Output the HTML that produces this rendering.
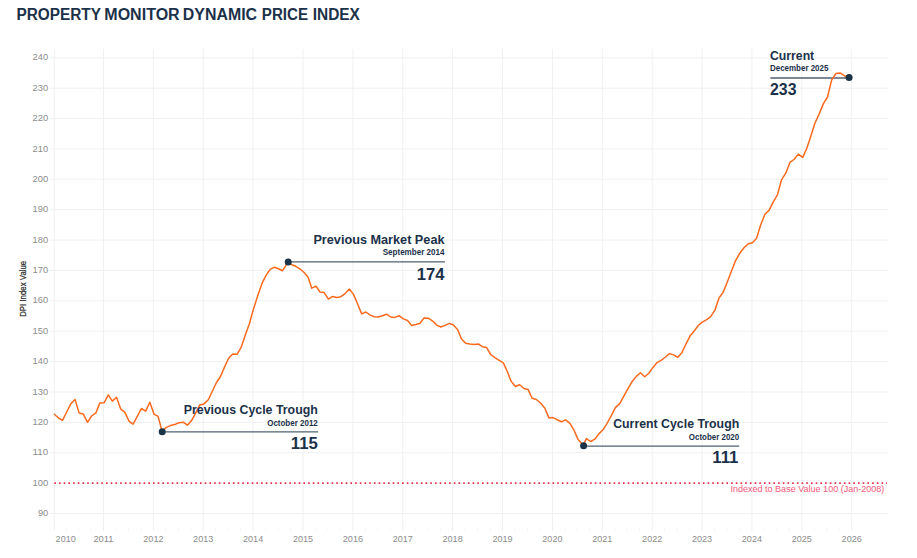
<!DOCTYPE html>
<html><head><meta charset="utf-8"><title>Property Monitor Dynamic Price Index</title>
<style>
html,body{margin:0;padding:0;background:#fff;}
body{width:917px;height:558px;overflow:hidden;font-family:"Liberation Sans",sans-serif;}
svg{display:block;font-family:"Liberation Sans",sans-serif;}
.grid line{stroke:#f0f0f0;stroke-width:1;}
.ax text{fill:#8c8c8c;font-size:8.6px;}
.ann text{fill:#1b3149;font-weight:bold;}
.ann line{stroke:#506270;stroke-width:1.3;}
.dot{fill:#1b3347;}
</style></head><body>
<svg width="917" height="558" viewBox="0 0 917 558">
<rect width="917" height="558" fill="#fff"/>
<g font-size="15.6" font-weight="bold" fill="#1b3149">
<text x="16.4" y="20.1" textLength="84.5" lengthAdjust="spacingAndGlyphs">PROPERTY</text>
<text x="104.3" y="20.1" textLength="75.4" lengthAdjust="spacingAndGlyphs">MONITOR</text>
<text x="182.8" y="20.1" textLength="74.3" lengthAdjust="spacingAndGlyphs">DYNAMIC</text>
<text x="261.8" y="20.1" textLength="46.2" lengthAdjust="spacingAndGlyphs">PRICE</text>
<text x="312.7" y="20.1" textLength="47.2" lengthAdjust="spacingAndGlyphs">INDEX</text>
</g>
<g class="grid">
<line x1="54.3" y1="48.8" x2="54.3" y2="531" stroke-width="0.7"/>
<line x1="66.1" y1="528.6" x2="66.1" y2="530.6" stroke="#e9e9e9"/>
<line x1="78.5" y1="528.6" x2="78.5" y2="530.6" stroke="#e9e9e9"/>
<line x1="91.0" y1="528.6" x2="91.0" y2="530.6" stroke="#e9e9e9"/>
<line x1="103.5" y1="48.8" x2="103.5" y2="531"/>
<line x1="116.0" y1="528.6" x2="116.0" y2="530.6" stroke="#e9e9e9"/>
<line x1="128.4" y1="528.6" x2="128.4" y2="530.6" stroke="#e9e9e9"/>
<line x1="140.9" y1="528.6" x2="140.9" y2="530.6" stroke="#e9e9e9"/>
<line x1="153.4" y1="48.8" x2="153.4" y2="531"/>
<line x1="165.8" y1="528.6" x2="165.8" y2="530.6" stroke="#e9e9e9"/>
<line x1="178.3" y1="528.6" x2="178.3" y2="530.6" stroke="#e9e9e9"/>
<line x1="190.8" y1="528.6" x2="190.8" y2="530.6" stroke="#e9e9e9"/>
<line x1="203.2" y1="48.8" x2="203.2" y2="531"/>
<line x1="215.7" y1="528.6" x2="215.7" y2="530.6" stroke="#e9e9e9"/>
<line x1="228.2" y1="528.6" x2="228.2" y2="530.6" stroke="#e9e9e9"/>
<line x1="240.7" y1="528.6" x2="240.7" y2="530.6" stroke="#e9e9e9"/>
<line x1="253.1" y1="48.8" x2="253.1" y2="531"/>
<line x1="265.6" y1="528.6" x2="265.6" y2="530.6" stroke="#e9e9e9"/>
<line x1="278.1" y1="528.6" x2="278.1" y2="530.6" stroke="#e9e9e9"/>
<line x1="290.5" y1="528.6" x2="290.5" y2="530.6" stroke="#e9e9e9"/>
<line x1="303.0" y1="48.8" x2="303.0" y2="531"/>
<line x1="315.5" y1="528.6" x2="315.5" y2="530.6" stroke="#e9e9e9"/>
<line x1="327.9" y1="528.6" x2="327.9" y2="530.6" stroke="#e9e9e9"/>
<line x1="340.4" y1="528.6" x2="340.4" y2="530.6" stroke="#e9e9e9"/>
<line x1="352.9" y1="48.8" x2="352.9" y2="531"/>
<line x1="365.4" y1="528.6" x2="365.4" y2="530.6" stroke="#e9e9e9"/>
<line x1="377.8" y1="528.6" x2="377.8" y2="530.6" stroke="#e9e9e9"/>
<line x1="390.3" y1="528.6" x2="390.3" y2="530.6" stroke="#e9e9e9"/>
<line x1="402.8" y1="48.8" x2="402.8" y2="531"/>
<line x1="415.2" y1="528.6" x2="415.2" y2="530.6" stroke="#e9e9e9"/>
<line x1="427.7" y1="528.6" x2="427.7" y2="530.6" stroke="#e9e9e9"/>
<line x1="440.2" y1="528.6" x2="440.2" y2="530.6" stroke="#e9e9e9"/>
<line x1="452.6" y1="48.8" x2="452.6" y2="531"/>
<line x1="465.1" y1="528.6" x2="465.1" y2="530.6" stroke="#e9e9e9"/>
<line x1="477.6" y1="528.6" x2="477.6" y2="530.6" stroke="#e9e9e9"/>
<line x1="490.1" y1="528.6" x2="490.1" y2="530.6" stroke="#e9e9e9"/>
<line x1="502.5" y1="48.8" x2="502.5" y2="531"/>
<line x1="515.0" y1="528.6" x2="515.0" y2="530.6" stroke="#e9e9e9"/>
<line x1="527.5" y1="528.6" x2="527.5" y2="530.6" stroke="#e9e9e9"/>
<line x1="539.9" y1="528.6" x2="539.9" y2="530.6" stroke="#e9e9e9"/>
<line x1="552.4" y1="48.8" x2="552.4" y2="531"/>
<line x1="564.9" y1="528.6" x2="564.9" y2="530.6" stroke="#e9e9e9"/>
<line x1="577.3" y1="528.6" x2="577.3" y2="530.6" stroke="#e9e9e9"/>
<line x1="589.8" y1="528.6" x2="589.8" y2="530.6" stroke="#e9e9e9"/>
<line x1="602.3" y1="48.8" x2="602.3" y2="531"/>
<line x1="614.8" y1="528.6" x2="614.8" y2="530.6" stroke="#e9e9e9"/>
<line x1="627.2" y1="528.6" x2="627.2" y2="530.6" stroke="#e9e9e9"/>
<line x1="639.7" y1="528.6" x2="639.7" y2="530.6" stroke="#e9e9e9"/>
<line x1="652.2" y1="48.8" x2="652.2" y2="531"/>
<line x1="664.6" y1="528.6" x2="664.6" y2="530.6" stroke="#e9e9e9"/>
<line x1="677.1" y1="528.6" x2="677.1" y2="530.6" stroke="#e9e9e9"/>
<line x1="689.6" y1="528.6" x2="689.6" y2="530.6" stroke="#e9e9e9"/>
<line x1="702.0" y1="48.8" x2="702.0" y2="531"/>
<line x1="714.5" y1="528.6" x2="714.5" y2="530.6" stroke="#e9e9e9"/>
<line x1="727.0" y1="528.6" x2="727.0" y2="530.6" stroke="#e9e9e9"/>
<line x1="739.5" y1="528.6" x2="739.5" y2="530.6" stroke="#e9e9e9"/>
<line x1="751.9" y1="48.8" x2="751.9" y2="531"/>
<line x1="764.4" y1="528.6" x2="764.4" y2="530.6" stroke="#e9e9e9"/>
<line x1="776.9" y1="528.6" x2="776.9" y2="530.6" stroke="#e9e9e9"/>
<line x1="789.3" y1="528.6" x2="789.3" y2="530.6" stroke="#e9e9e9"/>
<line x1="801.8" y1="48.8" x2="801.8" y2="531"/>
<line x1="814.3" y1="528.6" x2="814.3" y2="530.6" stroke="#e9e9e9"/>
<line x1="826.7" y1="528.6" x2="826.7" y2="530.6" stroke="#e9e9e9"/>
<line x1="839.2" y1="528.6" x2="839.2" y2="530.6" stroke="#e9e9e9"/>
<line x1="851.7" y1="48.8" x2="851.7" y2="531"/>
<line x1="50" y1="513.5" x2="888.5" y2="513.5"/>
<line x1="50" y1="483.1" x2="888.5" y2="483.1"/>
<line x1="50" y1="452.7" x2="888.5" y2="452.7"/>
<line x1="50" y1="422.4" x2="888.5" y2="422.4"/>
<line x1="50" y1="392.0" x2="888.5" y2="392.0"/>
<line x1="50" y1="361.6" x2="888.5" y2="361.6"/>
<line x1="50" y1="331.2" x2="888.5" y2="331.2"/>
<line x1="50" y1="300.8" x2="888.5" y2="300.8"/>
<line x1="50" y1="270.5" x2="888.5" y2="270.5"/>
<line x1="50" y1="240.1" x2="888.5" y2="240.1"/>
<line x1="50" y1="209.7" x2="888.5" y2="209.7"/>
<line x1="50" y1="179.3" x2="888.5" y2="179.3"/>
<line x1="50" y1="148.9" x2="888.5" y2="148.9"/>
<line x1="50" y1="118.6" x2="888.5" y2="118.6"/>
<line x1="50" y1="88.2" x2="888.5" y2="88.2"/>
<line x1="50" y1="57.8" x2="888.5" y2="57.8"/>
</g>
<g class="ax">
<text x="48.2" y="516.1" text-anchor="end" textLength="10.3" lengthAdjust="spacingAndGlyphs">90</text>
<text x="48.2" y="485.7" text-anchor="end" textLength="15.6" lengthAdjust="spacingAndGlyphs">100</text>
<text x="48.2" y="455.3" text-anchor="end" textLength="15.6" lengthAdjust="spacingAndGlyphs">110</text>
<text x="48.2" y="425.0" text-anchor="end" textLength="15.6" lengthAdjust="spacingAndGlyphs">120</text>
<text x="48.2" y="394.6" text-anchor="end" textLength="15.6" lengthAdjust="spacingAndGlyphs">130</text>
<text x="48.2" y="364.2" text-anchor="end" textLength="15.6" lengthAdjust="spacingAndGlyphs">140</text>
<text x="48.2" y="333.8" text-anchor="end" textLength="15.6" lengthAdjust="spacingAndGlyphs">150</text>
<text x="48.2" y="303.4" text-anchor="end" textLength="15.6" lengthAdjust="spacingAndGlyphs">160</text>
<text x="48.2" y="273.1" text-anchor="end" textLength="15.6" lengthAdjust="spacingAndGlyphs">170</text>
<text x="48.2" y="242.7" text-anchor="end" textLength="15.6" lengthAdjust="spacingAndGlyphs">180</text>
<text x="48.2" y="212.3" text-anchor="end" textLength="15.6" lengthAdjust="spacingAndGlyphs">190</text>
<text x="48.2" y="181.9" text-anchor="end" textLength="15.6" lengthAdjust="spacingAndGlyphs">200</text>
<text x="48.2" y="151.5" text-anchor="end" textLength="15.6" lengthAdjust="spacingAndGlyphs">210</text>
<text x="48.2" y="121.2" text-anchor="end" textLength="15.6" lengthAdjust="spacingAndGlyphs">220</text>
<text x="48.2" y="90.8" text-anchor="end" textLength="15.6" lengthAdjust="spacingAndGlyphs">230</text>
<text x="48.2" y="60.4" text-anchor="end" textLength="15.6" lengthAdjust="spacingAndGlyphs">240</text>
<text x="55.6" y="542.3" text-anchor="start" textLength="20.2" lengthAdjust="spacingAndGlyphs">2010</text>
<text x="103.5" y="542.3" text-anchor="middle" textLength="20.2" lengthAdjust="spacingAndGlyphs">2011</text>
<text x="153.4" y="542.3" text-anchor="middle" textLength="20.2" lengthAdjust="spacingAndGlyphs">2012</text>
<text x="203.2" y="542.3" text-anchor="middle" textLength="20.2" lengthAdjust="spacingAndGlyphs">2013</text>
<text x="253.1" y="542.3" text-anchor="middle" textLength="20.2" lengthAdjust="spacingAndGlyphs">2014</text>
<text x="303.0" y="542.3" text-anchor="middle" textLength="20.2" lengthAdjust="spacingAndGlyphs">2015</text>
<text x="352.9" y="542.3" text-anchor="middle" textLength="20.2" lengthAdjust="spacingAndGlyphs">2016</text>
<text x="402.8" y="542.3" text-anchor="middle" textLength="20.2" lengthAdjust="spacingAndGlyphs">2017</text>
<text x="452.6" y="542.3" text-anchor="middle" textLength="20.2" lengthAdjust="spacingAndGlyphs">2018</text>
<text x="502.5" y="542.3" text-anchor="middle" textLength="20.2" lengthAdjust="spacingAndGlyphs">2019</text>
<text x="552.4" y="542.3" text-anchor="middle" textLength="20.2" lengthAdjust="spacingAndGlyphs">2020</text>
<text x="602.3" y="542.3" text-anchor="middle" textLength="20.2" lengthAdjust="spacingAndGlyphs">2021</text>
<text x="652.2" y="542.3" text-anchor="middle" textLength="20.2" lengthAdjust="spacingAndGlyphs">2022</text>
<text x="702.0" y="542.3" text-anchor="middle" textLength="20.2" lengthAdjust="spacingAndGlyphs">2023</text>
<text x="751.9" y="542.3" text-anchor="middle" textLength="20.2" lengthAdjust="spacingAndGlyphs">2024</text>
<text x="801.8" y="542.3" text-anchor="middle" textLength="20.2" lengthAdjust="spacingAndGlyphs">2025</text>
<text x="851.7" y="542.3" text-anchor="middle" textLength="20.2" lengthAdjust="spacingAndGlyphs">2026</text>
</g>
<text transform="translate(25.9,288.8) rotate(-90)" text-anchor="middle" font-size="8.2" fill="#262626" stroke="#262626" stroke-width="0.2" textLength="56" lengthAdjust="spacingAndGlyphs">DPI Index Value</text>
<line x1="54.3" y1="483.1" x2="887" y2="483.1" stroke="#ea2f52" stroke-width="1.6" stroke-dasharray="1.6 3.1"/>
<text x="884.4" y="491.7" text-anchor="end" font-size="8.4" fill="#f2587a" textLength="154" lengthAdjust="spacingAndGlyphs">Indexed to Base Value 100 (Jan-2008)</text>
<g class="ann">
<line x1="162.2" y1="431.9" x2="318.2" y2="431.9"/>
<line x1="288.2" y1="261.9" x2="444.9" y2="261.9"/>
<line x1="583.7" y1="446.2" x2="739.2" y2="446.2"/>
<line x1="770.3" y1="78" x2="849" y2="78"/>
</g>
<polyline fill="none" stroke="#fa6a1e" stroke-width="1.5" stroke-linejoin="round" stroke-linecap="round" points="54.4,414.2 58.5,418.0 62.5,420.4 66.7,412.0 70.8,403.8 75.0,399.4 79.1,412.9 83.2,413.9 87.5,422.4 91.6,416.0 95.9,412.9 99.9,402.9 104.1,402.8 108.3,394.8 112.3,401.1 116.5,397.2 120.6,408.8 124.9,412.4 129.0,421.1 133.1,424.1 137.3,416.4 141.4,408.5 145.7,411.1 149.8,402.2 154.0,414.1 158.1,416.4 162.1,431.5 166.3,427.4 170.4,425.6 174.6,424.6 178.8,422.7 183.2,422.2 187.4,425.2 191.4,420.8 195.5,413.3 199.8,404.9 203.9,403.9 208.3,399.8 212.3,391.3 216.5,382.5 220.5,376.5 224.5,367.1 228.6,358.3 232.7,353.9 237.0,354.3 241.1,347.4 245.3,335.1 249.4,323.8 253.5,308.9 257.7,295.8 261.8,283.9 265.9,275.7 270.1,269.4 274.5,267.2 278.5,268.8 282.6,270.7 288.0,262.2 292.0,264.8 295.8,266.3 299.8,268.8 303.9,272.3 308.1,277.3 311.8,288.2 316.0,286.1 320.0,292.0 324.1,292.6 328.4,299.2 332.5,296.4 336.8,297.4 340.9,296.7 345.1,293.6 349.4,289.0 353.5,294.4 357.5,303.8 361.7,313.9 365.8,312.0 369.8,314.9 374.1,316.7 378.2,317.0 382.4,315.7 386.6,314.2 390.8,317.0 394.9,317.4 399.2,315.7 403.3,318.9 407.5,320.5 411.7,325.4 415.9,324.5 420.0,323.3 424.1,317.9 428.3,318.2 432.4,320.8 436.7,325.1 440.8,327.0 445.0,325.4 449.4,323.4 453.5,325.0 457.7,329.8 461.4,338.8 465.7,343.2 469.8,343.9 474.1,344.5 478.2,343.9 482.4,346.7 486.5,347.4 490.6,354.5 494.8,357.7 498.9,360.2 503.3,362.9 507.3,371.5 511.1,381.3 515.4,386.5 519.7,384.8 524.0,388.5 528.1,389.4 532.1,398.2 536.4,399.5 540.8,403.2 544.9,408.2 548.9,417.9 553.1,417.6 557.3,419.8 561.5,421.8 565.6,419.8 569.9,423.3 574.0,430.2 578.1,439.6 583.2,445.2 586.4,438.6 590.7,441.5 594.8,439.2 598.8,433.9 603.0,429.8 607.1,423.3 611.3,415.7 615.4,407.6 619.7,403.6 623.7,396.3 627.8,388.8 632.2,381.5 636.3,376.4 640.4,372.7 644.7,376.8 648.8,373.3 653.0,367.4 657.1,362.6 661.4,360.1 665.4,357.0 669.5,353.6 673.7,354.9 677.7,357.4 682.0,352.4 686.1,343.8 690.2,335.7 694.4,330.7 698.5,325.3 702.3,322.1 706.6,319.6 710.7,316.7 714.9,310.2 719.0,298.0 723.1,292.4 727.3,282.0 731.4,271.3 735.6,260.6 739.8,253.3 744.0,247.7 748.3,243.7 752.4,242.7 756.6,238.3 760.8,224.5 764.9,214.2 769.2,210.1 773.3,201.9 777.4,194.8 781.4,180.2 786.0,172.7 789.9,162.4 794.0,159.5 798.3,154.1 802.7,157.4 806.8,148.2 810.8,136.3 814.9,123.3 819.2,113.9 823.3,103.9 827.5,97.0 831.6,80.1 835.9,73.5 840.0,72.9 844.3,75.7 848.8,77.2"/>
<g class="ann">
<text x="183.8" y="413.6" font-size="12.3" textLength="134" lengthAdjust="spacingAndGlyphs">Previous Cycle Trough</text>
<text x="267.2" y="425.7" font-size="8.7" textLength="50.6" lengthAdjust="spacingAndGlyphs">October 2012</text>
<text x="290.8" y="448.9" font-size="15.6" textLength="27" lengthAdjust="spacingAndGlyphs">115</text>

<text x="313.4" y="243.6" font-size="12.3" textLength="131.1" lengthAdjust="spacingAndGlyphs">Previous Market Peak</text>
<text x="382.7" y="254.9" font-size="8.7" textLength="61.8" lengthAdjust="spacingAndGlyphs">September 2014</text>
<text x="416.8" y="279.9" font-size="15.6" textLength="27.7" lengthAdjust="spacingAndGlyphs">174</text>

<text x="613.2" y="427.5" font-size="12.3" textLength="126" lengthAdjust="spacingAndGlyphs">Current Cycle Trough</text>
<text x="688.8" y="439.9" font-size="8.7" textLength="50.4" lengthAdjust="spacingAndGlyphs">October 2020</text>
<text x="712.3" y="462.8" font-size="15.6" textLength="26.1" lengthAdjust="spacingAndGlyphs">111</text>

<text x="770" y="59.8" font-size="12.3" textLength="44.2" lengthAdjust="spacingAndGlyphs">Current</text>
<text x="770" y="70.8" font-size="8.7" textLength="58.4" lengthAdjust="spacingAndGlyphs">December 2025</text>
<text x="770" y="94.6" font-size="15.6" textLength="26.5" lengthAdjust="spacingAndGlyphs">233</text>
</g>
<circle class="dot" cx="162.2" cy="431.7" r="3.5"/>
<circle class="dot" cx="288.2" cy="261.9" r="3.5"/>
<circle class="dot" cx="583.6" cy="445.8" r="3.5"/>
<circle class="dot" cx="849.1" cy="77.4" r="3.5"/>
</svg>
</body></html>
